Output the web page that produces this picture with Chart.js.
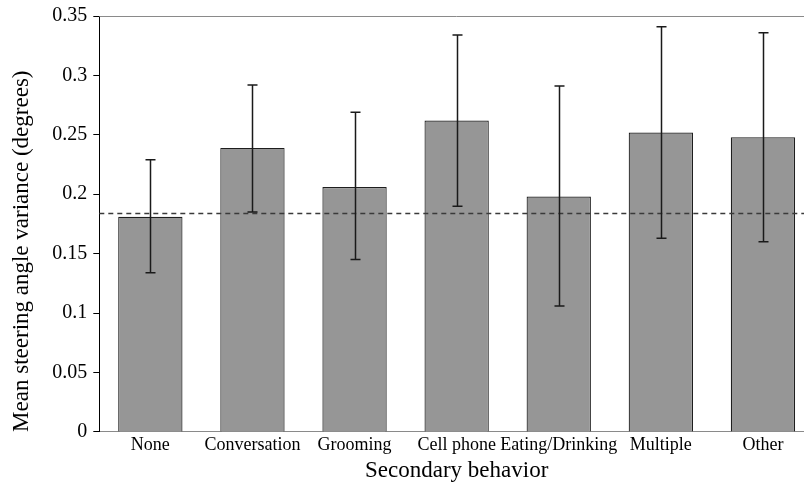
<!DOCTYPE html>
<html>
<head>
<meta charset="utf-8">
<script src="https://cdn.jsdelivr.net/npm/chart.js@4"></script>
<style>
    html, body { margin: 0; padding: 0; background: #fff; overflow: hidden; }
    .wrap { width: 816px; height: 486px; position: relative; }
</style>
</head>
<body>
<div class="wrap"><canvas id="chart"></canvas></div>
<script>
// data
const categories = ['None', 'Conversation', 'Grooming', 'Cell phone', 'Eating/Drinking', 'Multiple', 'Other'];
const means = [0.181, 0.239, 0.206, 0.262, 0.198, 0.252, 0.248];
const errLow = [0.134, 0.185, 0.145, 0.190, 0.106, 0.163, 0.160];
const errHigh = [0.229, 0.292, 0.269, 0.334, 0.291, 0.341, 0.336];
const baseline = 0.184;
const yTicks = [0, 0.05, 0.1, 0.15, 0.2, 0.25, 0.3, 0.35];

const serif = '"Liberation Serif", "Times New Roman", serif';

// error bars, dashed baseline and top frame line
const extras = {
    id: 'extras',
    afterDatasetsDraw(chart) {
        const ctx = chart.ctx;
        const area = chart.chartArea;
        const y = chart.scales.y;
        const meta = chart.getDatasetMeta(0);

        ctx.save();
        // top frame
        ctx.strokeStyle = '#8a8a8a';
        ctx.lineWidth = 1;
        ctx.beginPath();
        ctx.moveTo(area.left, Math.round(area.top) + 0.5);
        ctx.lineTo(area.right, Math.round(area.top) + 0.5);
        ctx.stroke();

        // dashed reference line
        const by = Math.round(y.getPixelForValue(baseline)) + 0.5;
        ctx.strokeStyle = '#3a3a3a';
        ctx.lineWidth = 1.5;
        ctx.setLineDash([5, 4]);
        ctx.beginPath();
        ctx.moveTo(area.left, by);
        ctx.lineTo(area.right, by);
        ctx.stroke();
        ctx.setLineDash([]);

        // error bars
        ctx.strokeStyle = '#1a1a1a';
        ctx.lineWidth = 1.5;
        meta.data.forEach((bar, i) => {
            const x = Math.round(bar.x) + 0.5;
            const top = y.getPixelForValue(errHigh[i]);
            const bot = y.getPixelForValue(errLow[i]);
            ctx.beginPath();
            ctx.moveTo(x, top);
            ctx.lineTo(x, bot);
            ctx.moveTo(x - 5, top);
            ctx.lineTo(x + 5, top);
            ctx.moveTo(x - 5, bot);
            ctx.lineTo(x + 5, bot);
            ctx.stroke();
        });
        ctx.restore();
    }
};

new Chart(document.getElementById('chart'), {
    type: 'bar',
    data: {
        labels: categories,
        datasets: [{
            data: means,
            backgroundColor: '#969696',
            borderColor: '#1e1e1e',
            borderWidth: 1.2,
            barPercentage: 0.63,
            categoryPercentage: 1
        }]
    },
    options: {
        responsive: true,
        maintainAspectRatio: false,
        animation: false,
        layout: { padding: { top: 12, right: 2, left: 9, bottom: 2 } },
        plugins: {
            legend: { display: false },
            tooltip: { enabled: false }
        },
        scales: {
            x: {
                grid: { display: false, drawTicks: false },
                border: { color: '#8a8a8a', width: 1 },
                ticks: { color: '#000', font: { family: serif, size: 18, lineHeight: 1.1 }, padding: 3, maxRotation: 0, autoSkip: false },
                title: { display: true, text: 'Secondary behavior', color: '#000', font: { family: serif, size: 23, lineHeight: 1.1 }, padding: { top: 1, bottom: 0 } }
            },
            y: {
                min: 0,
                max: 0.35,
                afterBuildTicks(axis) { axis.ticks = yTicks.map(v => ({ value: v })); },
                grid: { drawOnChartArea: false, drawTicks: true, tickLength: 6, color: '#000' },
                border: { color: '#000', width: 1 },
                ticks: {
                    color: '#000',
                    font: { family: serif, size: 20, lineHeight: 1 },
                    padding: 6,
                    callback: v => String(+v.toFixed(2))
                },
                title: { display: true, align: 'start', text: 'Mean steering angle variance (degrees)', color: '#000', font: { family: serif, size: 23, lineHeight: 1.1 }, padding: { top: 0, bottom: 12 } }
            }
        }
    },
    plugins: [extras]
});
</script>
</body>
</html>
